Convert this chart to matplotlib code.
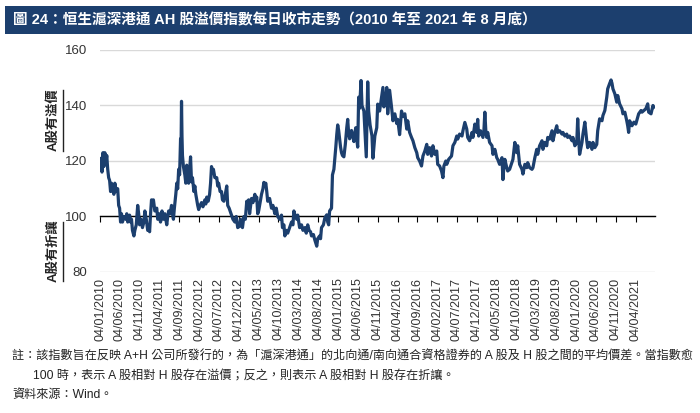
import numpy as np
import pandas as pd
import matplotlib
matplotlib.use('Agg')
from matplotlib import pyplot as plt
from matplotlib.patches import Rectangle
from matplotlib.lines import Line2D

plt.rcParams['font.family'] = ['Liberation Sans', 'Noto Sans CJK TC', 'DejaVu Sans']

# daily close of the AH premium index (decimal year, value)
t_years = [
    2010.01, 2010.03, 2010.05, 2010.07, 2010.09, 2010.11, 2010.13, 2010.15, 2010.17, 2010.19,
    2010.21, 2010.23, 2010.25, 2010.27, 2010.30, 2010.32, 2010.35, 2010.38, 2010.40, 2010.42,
    2010.44, 2010.46, 2010.48, 2010.51, 2010.55, 2010.57, 2010.59, 2010.63, 2010.65, 2010.67,
    2010.69, 2010.72, 2010.74, 2010.77, 2010.80, 2010.82, 2010.84, 2010.87, 2010.90, 2010.93,
    2010.95, 2010.98, 2011.01, 2011.03, 2011.05, 2011.07, 2011.09, 2011.11, 2011.13, 2011.16,
    2011.20, 2011.22, 2011.25, 2011.28, 2011.31, 2011.34, 2011.37, 2011.41, 2011.43, 2011.45,
    2011.48, 2011.51, 2011.53, 2011.55, 2011.57, 2011.60, 2011.62, 2011.64, 2011.66, 2011.68,
    2011.70, 2011.71, 2011.72, 2011.73, 2011.74, 2011.76, 2011.79, 2011.81, 2011.83, 2011.85,
    2011.87, 2011.91, 2011.93, 2011.95, 2011.98, 2012.00, 2012.02, 2012.04, 2012.06, 2012.08,
    2012.11, 2012.14, 2012.17, 2012.21, 2012.23, 2012.25, 2012.28, 2012.31, 2012.33, 2012.35,
    2012.37, 2012.39, 2012.42, 2012.46, 2012.48, 2012.50, 2012.53, 2012.56, 2012.58, 2012.61,
    2012.64, 2012.67, 2012.69, 2012.72, 2012.77, 2012.80, 2012.84, 2012.87, 2012.90, 2012.94,
    2012.96, 2012.98, 2013.00, 2013.03, 2013.06, 2013.09, 2013.11, 2013.13, 2013.15, 2013.19,
    2013.22, 2013.26, 2013.28, 2013.30, 2013.32, 2013.34, 2013.36, 2013.40, 2013.43, 2013.45,
    2013.47, 2013.49, 2013.51, 2013.53, 2013.57, 2013.61, 2013.64, 2013.68, 2013.71, 2013.74,
    2013.78, 2013.82, 2013.84, 2013.87, 2013.89, 2013.92, 2013.95, 2013.99, 2014.03, 2014.06,
    2014.08, 2014.11, 2014.14, 2014.16, 2014.20, 2014.24, 2014.27, 2014.31, 2014.34, 2014.37,
    2014.40, 2014.43, 2014.45, 2014.49, 2014.52, 2014.56, 2014.58, 2014.62, 2014.64, 2014.66,
    2014.70, 2014.73, 2014.77, 2014.79, 2014.81, 2014.83, 2014.87, 2014.89, 2014.92, 2014.94,
    2014.96, 2014.98, 2015.00, 2015.02, 2015.04, 2015.06, 2015.08, 2015.10, 2015.13, 2015.16,
    2015.19, 2015.21, 2015.23, 2015.25, 2015.29, 2015.34, 2015.36, 2015.38, 2015.40, 2015.42,
    2015.44, 2015.46, 2015.49, 2015.51, 2015.55, 2015.58, 2015.60, 2015.63, 2015.65, 2015.68,
    2015.72, 2015.74, 2015.78, 2015.82, 2015.84, 2015.88, 2015.92, 2015.95, 2015.97, 2016.01,
    2016.03, 2016.05, 2016.09, 2016.13, 2016.16, 2016.20, 2016.24, 2016.26, 2016.30, 2016.34,
    2016.37, 2016.41, 2016.45, 2016.47, 2016.51, 2016.55, 2016.58, 2016.62, 2016.66, 2016.68,
    2016.72, 2016.76, 2016.79, 2016.83, 2016.87, 2016.89, 2016.93, 2016.97, 2017.00, 2017.04,
    2017.08, 2017.10, 2017.14, 2017.18, 2017.21, 2017.23, 2017.27, 2017.29, 2017.33, 2017.39,
    2017.42, 2017.46, 2017.50, 2017.52, 2017.56, 2017.61, 2017.63, 2017.67, 2017.71, 2017.73,
    2017.77, 2017.82, 2017.84, 2017.88, 2017.92, 2017.94, 2017.96, 2018.00, 2018.05, 2018.07,
    2018.09, 2018.11, 2018.13, 2018.15, 2018.19, 2018.24, 2018.26, 2018.30, 2018.34, 2018.36,
    2018.40, 2018.45, 2018.47, 2018.49, 2018.51, 2018.55, 2018.57, 2018.61, 2018.68, 2018.72,
    2018.76, 2018.78, 2018.82, 2018.87, 2018.89, 2018.93, 2018.97, 2018.99, 2019.03, 2019.08,
    2019.10, 2019.14, 2019.18, 2019.20, 2019.24, 2019.29, 2019.31, 2019.35, 2019.39, 2019.41,
    2019.45, 2019.50, 2019.52, 2019.56, 2019.60, 2019.62, 2019.66, 2019.71, 2019.73, 2019.77,
    2019.81, 2019.83, 2019.87, 2019.92, 2019.94, 2019.98, 2020.02, 2020.04, 2020.06, 2020.08,
    2020.13, 2020.15, 2020.19, 2020.23, 2020.25, 2020.29, 2020.34, 2020.36, 2020.40, 2020.44,
    2020.46, 2020.50, 2020.55, 2020.57, 2020.61, 2020.65, 2020.67, 2020.71, 2020.74, 2020.76,
    2020.78, 2020.82, 2020.86, 2020.88, 2020.92, 2020.97, 2020.99, 2021.03, 2021.07, 2021.09,
    2021.11, 2021.13, 2021.18, 2021.22, 2021.26, 2021.28, 2021.32, 2021.37, 2021.39, 2021.43,
    2021.47, 2021.51, 2021.53, 2021.58, 2021.62, 2021.64,
]
ah_index = [
    117, 121, 116, 123, 118, 123, 119, 122, 117, 114,
    113, 109, 112, 110, 108, 112, 109, 110, 104, 103,
    98, 101, 98, 100, 99, 101, 98, 100.5, 98, 99,
    95, 93, 95, 97, 104, 101, 97, 99, 96, 98,
    102, 99, 95, 96, 94.5, 101, 106, 104, 106, 102,
    103, 99, 101, 98, 102, 99, 101, 97, 100, 102,
    101, 104, 101, 99, 103, 108, 112, 110, 117, 115,
    128, 124, 141.5, 129, 122, 118, 115, 112, 118.5, 114,
    112, 121.5, 112.5, 114, 109, 111, 108, 106, 104, 102.5,
    104, 105, 103.5, 106, 104.5, 107, 105.5, 108, 112, 118,
    116, 117, 114, 114, 111, 112, 109, 109, 106, 105.5,
    108, 111, 104, 103, 100.5, 99, 98, 100, 96, 96.5,
    99, 97, 96, 100, 99, 105.5, 104, 106, 101, 106.5,
    105, 108, 106, 107, 101, 102, 104, 108, 110, 112.3,
    111, 112, 109, 105.5, 106.5, 103, 104, 101, 103, 100,
    99, 100.5, 96, 97, 93, 95, 94, 96, 98, 97,
    102, 100, 99, 100.5, 96, 97, 95, 96, 94, 97,
    95, 94.5, 93, 93.5, 91.5, 89.3, 92, 93, 92, 96,
    97, 99.5, 100.6, 98, 97, 102, 103, 115, 117, 121,
    125, 129.5, 133, 131, 128, 125, 123, 122, 121.5, 126,
    132, 135, 130, 128, 131, 127, 130, 132, 128, 125,
    143, 139, 149, 140, 138, 128, 121.5, 148.5, 138, 133,
    129, 121, 129, 132, 140.5, 138, 143, 146.5, 139.5, 142,
    146.5, 137, 145.5, 139.5, 134.5, 137, 133.5, 135, 129.5, 138,
    136, 137, 131.5, 134.5, 130.3, 128.5, 127.3, 124.8, 123, 121.2,
    120, 118.2, 121.8, 123.6, 126, 122.4, 124.8, 121.8, 125.5, 122.4,
    123.6, 118.8, 118.2, 116.4, 114, 118.2, 120, 118.8, 120.6, 121.8,
    125.5, 126.7, 129, 127.9, 129.7, 129, 130.9, 133.9, 131.5, 128.5,
    127.3, 130.3, 128.5, 133.3, 130.3, 135, 129, 130.9, 128.5, 130.9,
    137.6, 131, 128.5, 130.3, 126.7, 125.5, 122.4, 124.2, 121.2, 120.6,
    118.8, 121.2, 113.3, 118, 120.6, 117.6, 116.4, 117, 120.6, 126.7,
    123, 125.5, 118.8, 117, 115.3, 118.8, 117.6, 119.4, 117.6, 117,
    117.6, 121.2, 124.2, 122.4, 125.5, 127.3, 124.2, 126.7, 125.5, 128.5,
    127.9, 130.9, 127.3, 130.3, 132.7, 130.3, 130.9, 129.7, 130.3, 129,
    129.7, 128.5, 129, 127.3, 128.5, 125.5, 126.7, 135.2, 128, 122.4,
    126.7, 129.7, 134, 127.3, 124.8, 126.7, 124.2, 126.7, 124.8, 126,
    130.9, 135.2, 134.5, 136.4, 138.2, 143, 146, 147.9, 149.2, 148,
    146, 144.2, 141.2, 143.6, 140.6, 138.8, 137, 137.6, 134.5, 132.7,
    130.3, 134.5, 132.7, 134, 133.3, 134.5, 137, 138.2, 137.6, 138.2,
    138.8, 140.6, 137.6, 137, 140, 139.4,
]

tick_labels = [
    '04/01/2010', '04/06/2010', '04/11/2010', '04/04/2011', '04/09/2011', '04/02/2012',
    '04/07/2012', '04/12/2012', '04/05/2013', '04/10/2013', '04/03/2014', '04/08/2014',
    '04/01/2015', '04/06/2015', '04/11/2015', '04/04/2016', '04/09/2016', '04/02/2017',
    '04/07/2017', '04/12/2017', '04/05/2018', '04/10/2018', '04/03/2019', '04/08/2019',
    '04/01/2020', '04/06/2020', '04/11/2020', '04/04/2021',
]
y_ticks = [80, 100, 120, 140, 160]

title = '圖 24：恒生滬深港通 AH 股溢價指數每日收市走勢（2010 年至 2021 年 8 月底）'
note1 = '註：該指數旨在反映 A+H 公司所發行的，為「滬深港通」的北向通/南向通合資格證券的 A 股及 H 股之間的平均價差。當指數愈'
note2 = '100 時，表示 A 股相對 H 股存在溢價；反之，則表示 A 股相對 H 股存在折讓。'
source = '資料來源：Wind。'

navy = '#1c3f6e'

dates = pd.Timestamp('2010-01-01') + pd.to_timedelta((np.array(t_years) - 2010) * 365.25, unit='D')
tick_dates = pd.to_datetime(tick_labels, format='%d/%m/%Y')

W, H = 700, 413
fig = plt.figure(figsize=(7, 4.13), dpi=100)
ax = fig.add_axes([100 / W, 1 - 272 / H, 555 / W, 222 / H])

ax.plot(dates, ah_index, color=navy, lw=2.3, zorder=3)
ax.set_xlim(pd.Timestamp('2010-01-04'), pd.Timestamp('2021-08-31'))
ax.set_ylim(80, 160)
ax.set_yticks(y_ticks)
ax.grid(axis='y', color='#d9d9d9', lw=1)
ax.set_axisbelow(True)
ax.tick_params(axis='y', length=0, pad=9, labelsize=9.5, labelcolor='#333333')
for s in ['left', 'right', 'top']:
    ax.spines[s].set_visible(False)

# the 100 line carries the tick marks, the labels sit at the bottom
ax.spines['bottom'].set_position(('data', 100))
ax.spines['bottom'].set_color('black')
ax.spines['bottom'].set_linewidth(1)
ax.set_xticks(tick_dates)
ax.tick_params(axis='x', direction='out', length=4, width=0.8, color='black', labelbottom=False)

sec = ax.secondary_xaxis(0)
sec.set_xticks(tick_dates)
sec.set_xticklabels(tick_labels, rotation=90, fontsize=9, color='#333333')
sec.tick_params(axis='x', length=0, pad=4)
sec.spines['bottom'].set_visible(False)

# side captions (underlined vertical text)
fig.text(53 / W, 1 - 120 / H, 'A股有溢價', rotation=90, ha='center', va='center',
         fontsize=9.5, fontweight='bold', color='#222222')
fig.add_artist(Line2D([63 / W, 63 / W], [1 - 90 / H, 1 - 151 / H], color='#222222', lw=1))
fig.text(53 / W, 1 - 251 / H, 'A股有折讓', rotation=90, ha='center', va='center',
         fontsize=9.5, fontweight='bold', color='#222222')
fig.add_artist(Line2D([63 / W, 63 / W], [1 - 222 / H, 1 - 281 / H], color='#222222', lw=1))

# title bar
fig.add_artist(Rectangle((5 / W, 1 - 34 / H), 687 / W, 28 / H, transform=fig.transFigure,
                         facecolor=navy, edgecolor='none'))
fig.text(13 / W, 1 - 20 / H, title, color='white', fontsize=10.5, fontweight='bold',
         ha='left', va='center')

fig.text(12 / W, 1 - 357 / H, note1, fontsize=8.7, color='#222222', ha='left', va='center')
fig.text(33 / W, 1 - 376 / H, note2, fontsize=8.7, color='#222222', ha='left', va='center')
fig.text(12 / W, 1 - 395 / H, source, fontsize=8.7, color='#222222', ha='left', va='center')

fig.savefig('out.png', dpi=100)
